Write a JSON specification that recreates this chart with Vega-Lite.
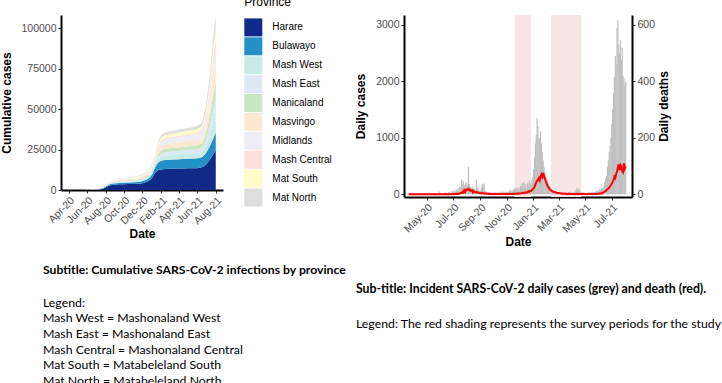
{
  "$schema": "https://vega.github.io/schema/vega-lite/v6.json",
  "padding": {"left": 0, "top": -3, "right": 0, "bottom": 0},
  "background": "white",
  "bounds": "flush",
  "spacing": 181,
  "config": {
    "view": {"stroke": null},
    "font": "Liberation Sans",
    "axis": {
      "grid": false, "domainColor": "#000", "domainWidth": 2,
      "tickColor": "#333", "tickSize": 3, "labelPadding": 2, "labelOverlap": false, "labelFlush": false,
      "labelFont": "Liberation Sans", "labelFontSize": 10.5, "labelColor": "#4d4d4d",
      "titleFont": "Liberation Sans", "titleFontSize": 12, "titleFontWeight": "bold", "titleColor": "#000"
    },
    "legend": {
      "symbolType": "square", "symbolSize": 324, "symbolStrokeWidth": 0, "symbolOpacity": 1,
      "labelFont": "Liberation Sans", "labelFontSize": 10, "labelColor": "#000", "labelOffset": 10,
      "titleFont": "Liberation Sans", "titleFontSize": 12, "titleFontWeight": "normal", "titleColor": "#000",
      "titlePadding": 9, "rowPadding": 0.9
    }
  },
  "datasets": {
    "daily": [
      {"d":"2020-03-20","c":1,"k":0},{"d":"2020-03-22","c":1,"k":0},{"d":"2020-03-24","c":0,"k":1},{"d":"2020-03-26","c":1,"k":0},{"d":"2020-03-28","c":2,"k":0},{"d":"2020-03-30","c":0,"k":0},
      {"d":"2020-04-01","c":1,"k":0},{"d":"2020-04-03","c":0,"k":0},{"d":"2020-04-05","c":1,"k":0},{"d":"2020-04-07","c":1,"k":0},{"d":"2020-04-09","c":0,"k":0},{"d":"2020-04-11","c":2,"k":0},{"d":"2020-04-13","c":0,"k":0},{"d":"2020-04-15","c":1,"k":0},{"d":"2020-04-17","c":0,"k":0},{"d":"2020-04-19","c":1,"k":0},{"d":"2020-04-21","c":3,"k":0},{"d":"2020-04-23","c":0,"k":0},{"d":"2020-04-25","c":1,"k":0},{"d":"2020-04-27","c":1,"k":0},{"d":"2020-04-29","c":8,"k":0},
      {"d":"2020-05-01","c":2,"k":0},{"d":"2020-05-03","c":2,"k":0},{"d":"2020-05-05","c":3,"k":0},{"d":"2020-05-07","c":1,"k":0},{"d":"2020-05-09","c":2,"k":0},{"d":"2020-05-11","c":1,"k":0},{"d":"2020-05-13","c":5,"k":0},{"d":"2020-05-15","c":2,"k":0},{"d":"2020-05-17","c":4,"k":0},{"d":"2020-05-19","c":2,"k":0},{"d":"2020-05-21","c":5,"k":0},{"d":"2020-05-23","c":8,"k":0},{"d":"2020-05-25","c":3,"k":0},{"d":"2020-05-27","c":10,"k":0},{"d":"2020-05-29","c":48,"k":0},{"d":"2020-05-31","c":30,"k":0},
      {"d":"2020-06-02","c":12,"k":0},{"d":"2020-06-04","c":20,"k":0},{"d":"2020-06-06","c":15,"k":0},{"d":"2020-06-08","c":25,"k":0},{"d":"2020-06-10","c":18,"k":0},{"d":"2020-06-12","c":30,"k":0},{"d":"2020-06-14","c":20,"k":1},{"d":"2020-06-16","c":25,"k":0},{"d":"2020-06-18","c":10,"k":0},{"d":"2020-06-20","c":35,"k":0},{"d":"2020-06-22","c":40,"k":0},{"d":"2020-06-24","c":20,"k":0},{"d":"2020-06-26","c":28,"k":1},{"d":"2020-06-28","c":60,"k":0},{"d":"2020-06-30","c":45,"k":1},
      {"d":"2020-07-02","c":50,"k":1},{"d":"2020-07-04","c":70,"k":0},{"d":"2020-07-06","c":40,"k":1},{"d":"2020-07-08","c":85,"k":2},{"d":"2020-07-10","c":60,"k":1},{"d":"2020-07-12","c":110,"k":2},{"d":"2020-07-14","c":70,"k":1},{"d":"2020-07-16","c":140,"k":3},{"d":"2020-07-18","c":120,"k":5},{"d":"2020-07-20","c":265,"k":4},{"d":"2020-07-22","c":180,"k":8},{"d":"2020-07-24","c":230,"k":6},{"d":"2020-07-26","c":150,"k":14},{"d":"2020-07-28","c":170,"k":8},{"d":"2020-07-30","c":220,"k":16},
      {"d":"2020-08-01","c":190,"k":15},{"d":"2020-08-03","c":160,"k":18},{"d":"2020-08-05","c":490,"k":20},{"d":"2020-08-07","c":180,"k":14},{"d":"2020-08-09","c":130,"k":16},{"d":"2020-08-11","c":120,"k":12},{"d":"2020-08-13","c":90,"k":14},{"d":"2020-08-15","c":140,"k":7},{"d":"2020-08-17","c":70,"k":12},{"d":"2020-08-19","c":100,"k":9},{"d":"2020-08-21","c":60,"k":6},{"d":"2020-08-23","c":260,"k":8},{"d":"2020-08-25","c":130,"k":6},{"d":"2020-08-27","c":110,"k":7},{"d":"2020-08-29","c":80,"k":5},{"d":"2020-08-31","c":60,"k":4},
      {"d":"2020-09-02","c":70,"k":4},{"d":"2020-09-04","c":120,"k":3},{"d":"2020-09-06","c":180,"k":5},{"d":"2020-09-08","c":175,"k":4},{"d":"2020-09-10","c":190,"k":3},{"d":"2020-09-12","c":60,"k":2},{"d":"2020-09-14","c":50,"k":3},{"d":"2020-09-16","c":40,"k":2},{"d":"2020-09-18","c":30,"k":2},{"d":"2020-09-20","c":45,"k":1},{"d":"2020-09-22","c":25,"k":2},{"d":"2020-09-24","c":40,"k":1},{"d":"2020-09-26","c":30,"k":1},{"d":"2020-09-28","c":20,"k":0},{"d":"2020-09-30","c":35,"k":1},
      {"d":"2020-10-02","c":30,"k":1},{"d":"2020-10-04","c":25,"k":0},{"d":"2020-10-06","c":40,"k":1},{"d":"2020-10-08","c":20,"k":1},{"d":"2020-10-10","c":35,"k":0},{"d":"2020-10-12","c":25,"k":1},{"d":"2020-10-14","c":30,"k":1},{"d":"2020-10-16","c":45,"k":0},{"d":"2020-10-18","c":20,"k":1},{"d":"2020-10-20","c":40,"k":1},{"d":"2020-10-22","c":30,"k":0},{"d":"2020-10-24","c":50,"k":1},{"d":"2020-10-26","c":25,"k":1},{"d":"2020-10-28","c":45,"k":1},{"d":"2020-10-30","c":35,"k":0},
      {"d":"2020-11-01","c":40,"k":1},{"d":"2020-11-03","c":50,"k":1},{"d":"2020-11-05","c":35,"k":0},{"d":"2020-11-07","c":60,"k":1},{"d":"2020-11-09","c":80,"k":1},{"d":"2020-11-11","c":45,"k":2},{"d":"2020-11-13","c":70,"k":1},{"d":"2020-11-15","c":55,"k":2},{"d":"2020-11-17","c":100,"k":1},{"d":"2020-11-19","c":75,"k":2},{"d":"2020-11-21","c":110,"k":2},{"d":"2020-11-23","c":90,"k":2},{"d":"2020-11-25","c":120,"k":3},{"d":"2020-11-27","c":80,"k":2},{"d":"2020-11-29","c":130,"k":3},
      {"d":"2020-12-01","c":90,"k":3},{"d":"2020-12-03","c":150,"k":3},{"d":"2020-12-05","c":120,"k":4},{"d":"2020-12-07","c":200,"k":5},{"d":"2020-12-09","c":140,"k":4},{"d":"2020-12-11","c":220,"k":6},{"d":"2020-12-13","c":120,"k":5},{"d":"2020-12-15","c":180,"k":7},{"d":"2020-12-17","c":100,"k":6},{"d":"2020-12-19","c":200,"k":8},{"d":"2020-12-21","c":150,"k":10},{"d":"2020-12-23","c":250,"k":9},{"d":"2020-12-25","c":200,"k":12},{"d":"2020-12-27","c":180,"k":11},{"d":"2020-12-29","c":260,"k":15},{"d":"2020-12-31","c":300,"k":18},
      {"d":"2021-01-02","c":450,"k":20},{"d":"2021-01-04","c":650,"k":26},{"d":"2021-01-06","c":900,"k":35},{"d":"2021-01-08","c":1050,"k":42},{"d":"2021-01-10","c":1350,"k":48},{"d":"2021-01-12","c":1200,"k":52},{"d":"2021-01-14","c":950,"k":58},{"d":"2021-01-16","c":1000,"k":50},{"d":"2021-01-18","c":1110,"k":64},{"d":"2021-01-20","c":900,"k":70},{"d":"2021-01-22","c":750,"k":62},{"d":"2021-01-24","c":600,"k":76},{"d":"2021-01-26","c":480,"k":64},{"d":"2021-01-28","c":400,"k":56},{"d":"2021-01-30","c":320,"k":45},
      {"d":"2021-02-01","c":280,"k":38},{"d":"2021-02-03","c":250,"k":30},{"d":"2021-02-05","c":200,"k":25},{"d":"2021-02-07","c":150,"k":20},{"d":"2021-02-09","c":140,"k":16},{"d":"2021-02-11","c":110,"k":14},{"d":"2021-02-13","c":90,"k":12},{"d":"2021-02-15","c":70,"k":10},{"d":"2021-02-17","c":60,"k":9},{"d":"2021-02-19","c":50,"k":8},{"d":"2021-02-21","c":40,"k":7},{"d":"2021-02-23","c":35,"k":6},{"d":"2021-02-25","c":30,"k":5},{"d":"2021-02-27","c":45,"k":5},
      {"d":"2021-03-01","c":40,"k":5},{"d":"2021-03-03","c":30,"k":4},{"d":"2021-03-05","c":35,"k":3},{"d":"2021-03-07","c":25,"k":3},{"d":"2021-03-09","c":40,"k":2},{"d":"2021-03-11","c":30,"k":3},{"d":"2021-03-13","c":20,"k":2},{"d":"2021-03-15","c":35,"k":2},{"d":"2021-03-17","c":45,"k":1},{"d":"2021-03-19","c":30,"k":2},{"d":"2021-03-21","c":25,"k":1},{"d":"2021-03-23","c":40,"k":1},{"d":"2021-03-25","c":30,"k":2},{"d":"2021-03-27","c":45,"k":1},{"d":"2021-03-29","c":35,"k":1},{"d":"2021-03-31","c":30,"k":1},
      {"d":"2021-04-02","c":25,"k":1},{"d":"2021-04-04","c":40,"k":1},{"d":"2021-04-06","c":30,"k":0},{"d":"2021-04-08","c":60,"k":1},{"d":"2021-04-10","c":100,"k":1},{"d":"2021-04-12","c":80,"k":2},{"d":"2021-04-14","c":120,"k":1},{"d":"2021-04-16","c":60,"k":1},{"d":"2021-04-18","c":90,"k":2},{"d":"2021-04-20","c":40,"k":1},{"d":"2021-04-22","c":30,"k":1},{"d":"2021-04-24","c":45,"k":0},{"d":"2021-04-26","c":25,"k":1},{"d":"2021-04-28","c":35,"k":1},{"d":"2021-04-30","c":20,"k":1},
      {"d":"2021-05-02","c":25,"k":0},{"d":"2021-05-04","c":30,"k":1},{"d":"2021-05-06","c":20,"k":0},{"d":"2021-05-08","c":35,"k":1},{"d":"2021-05-10","c":40,"k":1},{"d":"2021-05-12","c":25,"k":0},{"d":"2021-05-14","c":30,"k":1},{"d":"2021-05-16","c":45,"k":1},{"d":"2021-05-18","c":35,"k":0},{"d":"2021-05-20","c":30,"k":1},{"d":"2021-05-22","c":40,"k":1},{"d":"2021-05-24","c":35,"k":1},{"d":"2021-05-26","c":60,"k":2},{"d":"2021-05-28","c":45,"k":1},{"d":"2021-05-30","c":70,"k":2},
      {"d":"2021-06-01","c":60,"k":2},{"d":"2021-06-03","c":90,"k":3},{"d":"2021-06-05","c":80,"k":2},{"d":"2021-06-07","c":120,"k":4},{"d":"2021-06-09","c":100,"k":3},{"d":"2021-06-11","c":110,"k":6},{"d":"2021-06-13","c":150,"k":8},{"d":"2021-06-15","c":220,"k":10},{"d":"2021-06-17","c":280,"k":12},{"d":"2021-06-19","c":330,"k":15},{"d":"2021-06-21","c":480,"k":18},{"d":"2021-06-23","c":600,"k":20},{"d":"2021-06-25","c":760,"k":24},{"d":"2021-06-27","c":850,"k":28},{"d":"2021-06-29","c":1000,"k":32},
      {"d":"2021-07-01","c":1250,"k":38},{"d":"2021-07-03","c":1500,"k":45},{"d":"2021-07-05","c":1800,"k":50},{"d":"2021-07-07","c":2080,"k":62},{"d":"2021-07-09","c":2450,"k":58},{"d":"2021-07-11","c":2300,"k":72},{"d":"2021-07-13","c":2950,"k":80},{"d":"2021-07-15","c":3090,"k":95},{"d":"2021-07-17","c":2650,"k":106},{"d":"2021-07-19","c":2500,"k":86},{"d":"2021-07-21","c":2730,"k":102},{"d":"2021-07-23","c":2380,"k":96},{"d":"2021-07-25","c":2600,"k":82},{"d":"2021-07-27","c":2100,"k":78},{"d":"2021-07-29","c":2050,"k":110},{"d":"2021-07-31","c":1950,"k":92},
      {"d":"2021-08-02","c":2000,"k":100}
    ]
  },
  "hconcat": [
    {
      "width": 162,
      "height": 175,
      "title": {
        "text": "Subtitle: Cumulative SARS-CoV-2 infections by province",
        "subtitle": ["Legend:", "Mash West = Mashonaland West", "Mash East = Mashonaland East", "Mash Central = Mashonaland Central", "Mat South = Matabeleland South", "Mat North = Matabeleland North"],
        "orient": "bottom", "anchor": "start", "frame": "group", "dx": -18, "offset": 25,
        "font": "Lato", "fontSize": 12.2, "fontWeight": "bold", "color": "#000",
        "subtitleFont": "Lato", "subtitleFontSize": 12.3, "subtitleColor": "#000",
        "subtitlePadding": 20, "subtitleLineHeight": 15.7, "limit": 800
      },
      "data": {"values": [
        {"d":"2020-03-20","Harare":1,"Bulawayo":0,"Mash West":0,"Mash East":0,"Manicaland":0,"Masvingo":0,"Midlands":0,"Mash Central":0,"Mat South":0,"Mat North":0},
        {"d":"2020-04-15","Harare":10,"Bulawayo":5,"Mash West":1,"Mash East":1,"Manicaland":0,"Masvingo":1,"Midlands":1,"Mash Central":0,"Mat South":1,"Mat North":0},
        {"d":"2020-05-15","Harare":15,"Bulawayo":10,"Mash West":2,"Mash East":2,"Manicaland":2,"Masvingo":3,"Midlands":2,"Mash Central":1,"Mat South":2,"Mat North":1},
        {"d":"2020-06-10","Harare":80,"Bulawayo":60,"Mash West":25,"Mash East":20,"Manicaland":20,"Masvingo":27,"Midlands":27,"Mash Central":8,"Mat South":18,"Mat North":15},
        {"d":"2020-06-25","Harare":150,"Bulawayo":100,"Mash West":48,"Mash East":36,"Manicaland":36,"Masvingo":51,"Midlands":51,"Mash Central":15,"Mat South":33,"Mat North":30},
        {"d":"2020-07-10","Harare":300,"Bulawayo":150,"Mash West":72,"Mash East":54,"Manicaland":54,"Masvingo":77,"Midlands":76,"Mash Central":23,"Mat South":49,"Mat North":45},
        {"d":"2020-07-25","Harare":1000,"Bulawayo":350,"Mash West":136,"Mash East":102,"Manicaland":102,"Masvingo":145,"Midlands":144,"Mash Central":42,"Mat South":94,"Mat North":85},
        {"d":"2020-08-10","Harare":2500,"Bulawayo":600,"Mash West":240,"Mash East":180,"Manicaland":180,"Masvingo":255,"Midlands":255,"Mash Central":75,"Mat South":165,"Mat North":150},
        {"d":"2020-08-25","Harare":3200,"Bulawayo":800,"Mash West":320,"Mash East":240,"Manicaland":240,"Masvingo":340,"Midlands":340,"Mash Central":100,"Mat South":220,"Mat North":200},
        {"d":"2020-09-15","Harare":3500,"Bulawayo":900,"Mash West":464,"Mash East":348,"Manicaland":348,"Masvingo":493,"Midlands":493,"Mash Central":145,"Mat South":319,"Mat North":290},
        {"d":"2020-10-15","Harare":3700,"Bulawayo":1000,"Mash West":512,"Mash East":384,"Manicaland":384,"Masvingo":544,"Midlands":544,"Mash Central":160,"Mat South":352,"Mat North":320},
        {"d":"2020-11-15","Harare":3900,"Bulawayo":1100,"Mash West":592,"Mash East":444,"Manicaland":444,"Masvingo":629,"Midlands":629,"Mash Central":185,"Mat South":407,"Mat North":370},
        {"d":"2020-12-05","Harare":4400,"Bulawayo":1300,"Mash West":736,"Mash East":552,"Manicaland":552,"Masvingo":782,"Midlands":782,"Mash Central":230,"Mat South":506,"Mat North":460},
        {"d":"2020-12-20","Harare":5500,"Bulawayo":1600,"Mash West":848,"Mash East":636,"Manicaland":636,"Masvingo":901,"Midlands":901,"Mash Central":265,"Mat South":583,"Mat North":530},
        {"d":"2021-01-01","Harare":7200,"Bulawayo":2200,"Mash West":1056,"Mash East":792,"Manicaland":792,"Masvingo":1122,"Midlands":1122,"Mash Central":330,"Mat South":726,"Mat North":660},
        {"d":"2021-01-10","Harare":10000,"Bulawayo":3200,"Mash West":1248,"Mash East":936,"Manicaland":936,"Masvingo":1326,"Midlands":1326,"Mash Central":390,"Mat South":858,"Mat North":780},
        {"d":"2021-01-20","Harare":12000,"Bulawayo":4500,"Mash West":1920,"Mash East":1440,"Manicaland":1440,"Masvingo":2040,"Midlands":2040,"Mash Central":600,"Mat South":1320,"Mat North":1200},
        {"d":"2021-01-31","Harare":12700,"Bulawayo":5200,"Mash West":2496,"Mash East":1872,"Manicaland":1872,"Masvingo":2652,"Midlands":2652,"Mash Central":780,"Mat South":1716,"Mat North":1560},
        {"d":"2021-02-15","Harare":13000,"Bulawayo":5500,"Mash West":2720,"Mash East":2040,"Manicaland":2040,"Masvingo":2890,"Midlands":2890,"Mash Central":850,"Mat South":1870,"Mat North":1700},
        {"d":"2021-03-15","Harare":13200,"Bulawayo":5700,"Mash West":2864,"Mash East":2148,"Manicaland":2148,"Masvingo":3043,"Midlands":3043,"Mash Central":895,"Mat South":1969,"Mat North":1790},
        {"d":"2021-04-15","Harare":13300,"Bulawayo":5900,"Mash West":2992,"Mash East":2244,"Manicaland":2244,"Masvingo":3179,"Midlands":3179,"Mash Central":935,"Mat South":2057,"Mat North":1870},
        {"d":"2021-05-15","Harare":13400,"Bulawayo":6000,"Mash West":3136,"Mash East":2352,"Manicaland":2352,"Masvingo":3332,"Midlands":3332,"Mash Central":980,"Mat South":2156,"Mat North":1960},
        {"d":"2021-06-01","Harare":13500,"Bulawayo":6100,"Mash West":3232,"Mash East":2424,"Manicaland":2424,"Masvingo":3434,"Midlands":3434,"Mash Central":1010,"Mat South":2222,"Mat North":2020},
        {"d":"2021-06-15","Harare":14000,"Bulawayo":6300,"Mash West":3440,"Mash East":2580,"Manicaland":2600,"Masvingo":3650,"Midlands":3620,"Mash Central":1100,"Mat South":2340,"Mat North":2170},
        {"d":"2021-06-25","Harare":15000,"Bulawayo":6800,"Mash West":4250,"Mash East":3170,"Manicaland":3300,"Masvingo":4280,"Midlands":4050,"Mash Central":1650,"Mat South":2700,"Mat North":2800},
        {"d":"2021-07-05","Harare":17000,"Bulawayo":7600,"Mash West":5800,"Mash East":4350,"Manicaland":4600,"Masvingo":5650,"Midlands":5000,"Mash Central":2700,"Mat South":3300,"Mat North":4000},
        {"d":"2021-07-15","Harare":19500,"Bulawayo":8700,"Mash West":7900,"Mash East":5900,"Manicaland":6400,"Masvingo":7450,"Midlands":6300,"Mash Central":4150,"Mat South":4200,"Mat North":5500},
        {"d":"2021-07-25","Harare":22500,"Bulawayo":10000,"Mash West":10700,"Mash East":8050,"Manicaland":8900,"Masvingo":9950,"Midlands":8150,"Mash Central":6100,"Mat South":5400,"Mat North":7250},
        {"d":"2021-08-01","Harare":24500,"Bulawayo":11000,"Mash West":12000,"Mash East":9000,"Manicaland":10000,"Masvingo":11000,"Midlands":9000,"Mash Central":7000,"Mat South":6000,"Mat North":8000}
      ]},
      "transform": [
        {"fold": ["Harare","Bulawayo","Mash West","Mash East","Manicaland","Masvingo","Midlands","Mash Central","Mat South","Mat North"], "as": ["Province","cases"]},
        {"lookup": "Province", "from": {"data": {"values": [
          {"Province":"Harare","rank":1},{"Province":"Bulawayo","rank":2},{"Province":"Mash West","rank":3},{"Province":"Mash East","rank":4},{"Province":"Manicaland","rank":5},
          {"Province":"Masvingo","rank":6},{"Province":"Midlands","rank":7},{"Province":"Mash Central","rank":8},{"Province":"Mat South","rank":9},{"Province":"Mat North","rank":10}
        ]}, "key": "Province", "fields": ["rank"]}}
      ],
      "mark": {"type": "area", "interpolate": "monotone", "opacity": 1},
      "encoding": {
        "x": {"field": "d", "type": "temporal", "title": "Date",
          "scale": {"domain": [{"year":2020,"month":3,"date":6},{"year":2021,"month":8,"date":25}]},
          "axis": {"format": "%b-%y", "labelAngle": -45, "titlePadding": 2,
            "values": [{"year":2020,"month":4,"date":1},{"year":2020,"month":6,"date":1},{"year":2020,"month":8,"date":1},{"year":2020,"month":10,"date":1},{"year":2020,"month":12,"date":1},{"year":2021,"month":2,"date":1},{"year":2021,"month":4,"date":1},{"year":2021,"month":6,"date":1},{"year":2021,"month":8,"date":1}]}},
        "y": {"field": "cases", "type": "quantitative", "stack": "zero", "title": "Cumulative cases",
          "scale": {"domain": [0, 108200], "nice": false},
          "axis": {"values": [0, 25000, 50000, 75000, 100000], "format": "d", "titlePadding": 7}},
        "color": {"field": "Province", "type": "nominal",
          "scale": {"domain": ["Harare","Bulawayo","Mash West","Mash East","Manicaland","Masvingo","Midlands","Mash Central","Mat South","Mat North"],
            "range": ["#102a8a","#2390c6","#c9ebe6","#dce9f5","#c6e7c2","#fde9d2","#eeecf5","#fde0da","#fefdc8","#dedede"]},
          "legend": {"title": "Province", "orient": "none", "legendX": 183.3, "legendY": -17.6}},
        "order": {"field": "rank", "type": "quantitative", "sort": "ascending"}
      }
    },
    {
      "width": 228,
      "height": 182,
      "title": {
        "text": "Sub-title: Incident SARS-CoV-2 daily cases (grey) and death (red).",
        "subtitle": "Legend: The red shading represents the survey periods for the study",
        "orient": "bottom", "anchor": "start", "frame": "group", "dx": -48, "offset": 36,
        "font": "Lato", "fontSize": 12.25, "fontWeight": "bold", "color": "#000",
        "subtitleFont": "Lato", "subtitleFontSize": 12.3, "subtitleColor": "#000",
        "subtitlePadding": 23, "limit": 800
      },
      "layer": [
        {
          "data": {"values": [{"start":"2020-11-19","end":"2020-12-27"},{"start":"2021-02-11","end":"2021-04-22"}]},
          "mark": {"type": "rect", "color": "#f8e6e6"},
          "encoding": {
            "x": {"field": "start", "type": "temporal", "title": "Date",
              "scale": {"domain": [{"year":2020,"month":3,"date":21},{"year":2021,"month":8,"date":5}]},
              "axis": {"format": "%b-%y", "labelAngle": -45, "titlePadding": 2,
                "values": [{"year":2020,"month":5,"date":1},{"year":2020,"month":7,"date":1},{"year":2020,"month":9,"date":1},{"year":2020,"month":11,"date":1},{"year":2021,"month":1,"date":1},{"year":2021,"month":3,"date":1},{"year":2021,"month":5,"date":1},{"year":2021,"month":7,"date":1}]}},
            "x2": {"field": "end"}
          }
        },
        {
          "data": {"name": "daily"},
          "layer": [
            {
              "mark": {"type": "bar", "color": "#bfbfbf", "width": 1.2},
              "encoding": {
                "x": {"field": "d", "type": "temporal", "title": "Date",
                  "axis": {"format": "%b-%y", "labelAngle": -45, "titlePadding": 2,
                    "values": [{"year":2020,"month":5,"date":1},{"year":2020,"month":7,"date":1},{"year":2020,"month":9,"date":1},{"year":2020,"month":11,"date":1},{"year":2021,"month":1,"date":1},{"year":2021,"month":3,"date":1},{"year":2021,"month":5,"date":1},{"year":2021,"month":7,"date":1}]}},
                "y": {"field": "c", "type": "quantitative", "title": "Daily cases",
                  "scale": {"domain": [-48, 3177], "nice": false, "zero": false},
                  "axis": {"values": [0, 1000, 2000, 3000], "format": "d", "titlePadding": 8}}
              }
            },
            {
              "mark": {"type": "line", "color": "#ff0000", "strokeWidth": 2},
              "encoding": {
                "x": {"field": "d", "type": "temporal", "title": "Date",
                  "axis": {"format": "%b-%y", "labelAngle": -45, "titlePadding": 2,
                    "values": [{"year":2020,"month":5,"date":1},{"year":2020,"month":7,"date":1},{"year":2020,"month":9,"date":1},{"year":2020,"month":11,"date":1},{"year":2021,"month":1,"date":1},{"year":2021,"month":3,"date":1},{"year":2021,"month":5,"date":1},{"year":2021,"month":7,"date":1}]}},
                "y": {"field": "k", "type": "quantitative", "title": "Daily deaths",
                  "scale": {"domain": [-9.6, 635.4], "nice": false, "zero": false},
                  "axis": {"orient": "right", "values": [0, 200, 400, 600], "format": "d", "titleAngle": -90, "titleBaseline": "top", "titlePadding": 4}}
              }
            }
          ],
          "resolve": {"scale": {"y": "independent"}}
        }
      ],
      "resolve": {"scale": {"y": "independent"}}
    }
  ]
}
